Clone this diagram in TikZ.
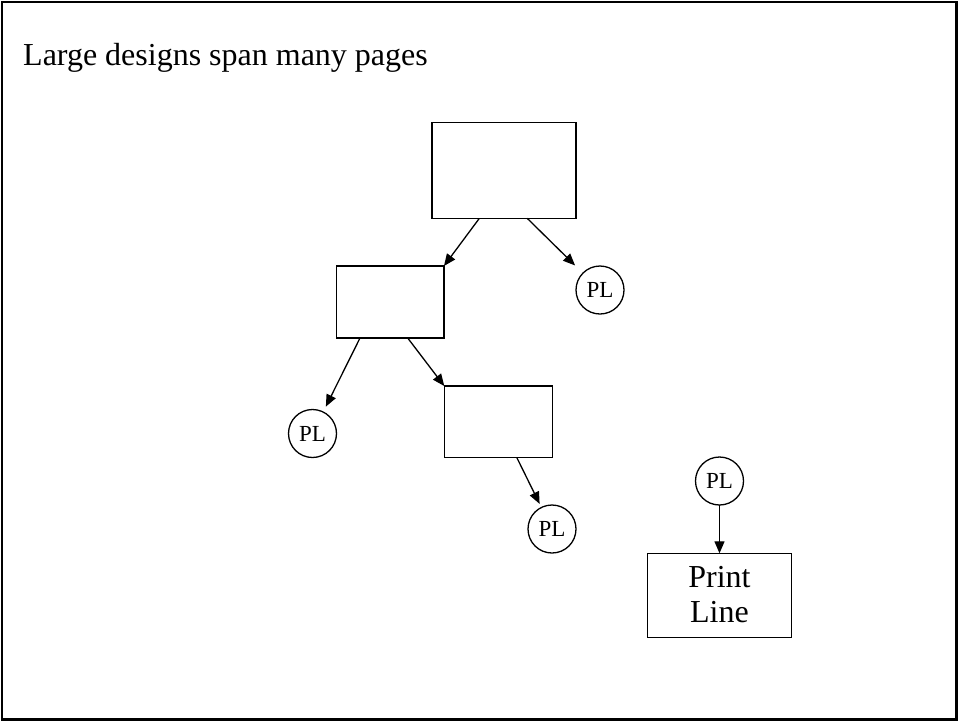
\documentclass[tikz,border=0pt]{standalone}
\usepackage{fontspec}
\setmainfont{Liberation Serif}
\usetikzlibrary{arrows.meta}
\tikzset{
  box/.style={draw, line width=1.3pt, rectangle, inner sep=0pt, outer sep=0pt},
  plc/.style={draw, line width=1.3pt, circle, minimum size=48pt, inner sep=0pt, outer sep=0pt, font=\fontsize{23}{25}\selectfont},
  arr/.style={line width=1.3pt, -{Triangle[length=12pt,width=10pt]}},
}
\begin{document}
\begin{tikzpicture}[x=1pt,y=-1pt]
\useasboundingbox (0,0) rectangle (958,721);
\draw[line width=2.5pt] (2.2,2.2) rectangle (956.7,719.5);
\node[anchor=base west, inner sep=0pt, font=\fontsize{32}{35}\selectfont] (title) at (23,65) {Large designs span many pages};
\node[box, minimum width=144pt, minimum height=96pt] (top) at (504,170.4) {};
\node[box, minimum width=107.3pt, minimum height=72pt] (mid) at (390.3,302) {};
\node[box, minimum width=108pt, minimum height=71.3pt] (b3) at (498.3,421.7) {};
\node[box, minimum width=143.6pt, minimum height=84pt] (print) at (719.5,595.3) {};
\node[inner sep=0pt, align=center, font=\fontsize{32}{35}\selectfont] (printtext) at (719.5,594.3) {Print\\Line};
\node[plc] (pl1) at (600,290) {PL};
\node[plc] (pl2) at (312.5,433.5) {PL};
\node[plc] (pl3) at (552,529) {PL};
\node[plc] (pl4) at (719.5,481) {PL};
\draw[arr] ([xshift=-24.7pt]top.south) -- (mid.north east);
\draw[arr, shorten >=11pt] ([xshift=23.3pt]top.south) -- (pl1);
\draw[arr, shorten >=6pt] ([xshift=-30.3pt]mid.south) -- (pl2);
\draw[arr] ([xshift=17.4pt]mid.south) -- (b3.north west);
\draw[arr, shorten >=4pt] ([xshift=18.4pt]b3.south) -- (pl3);
\draw[arr] (pl4) -- (print);
\end{tikzpicture}
\end{document}
